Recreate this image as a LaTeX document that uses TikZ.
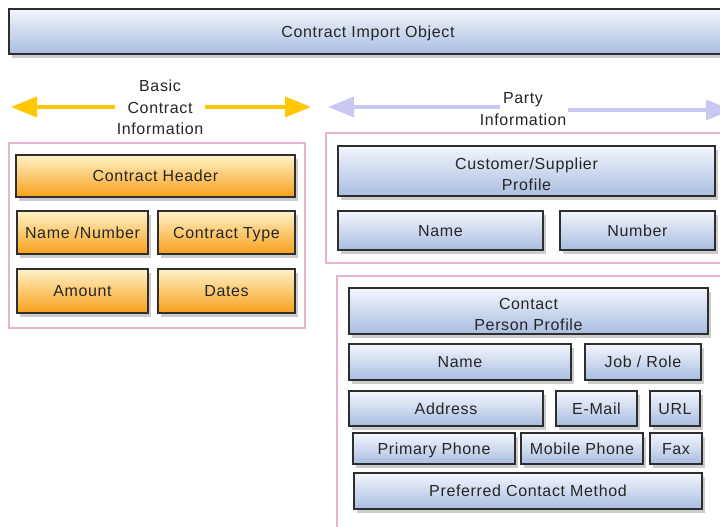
\documentclass[tikz,border=0pt]{standalone}
\usepackage{fontspec}
\setmainfont[LetterSpace=4]{Liberation Sans}
\usetikzlibrary{shadows,arrows.meta}
\definecolor{bluetop}{HTML}{F3F6FC}
\definecolor{bluebot}{HTML}{A9BDE1}
\definecolor{ortop}{HTML}{FFF2C8}
\definecolor{orbot}{HTML}{F8A01A}
\definecolor{pinkline}{HTML}{E8B2D1}
\definecolor{yel}{HTML}{FFC800}
\definecolor{lav}{HTML}{C8C8F3}
\definecolor{txt}{HTML}{262626}
\definecolor{edge}{HTML}{2E2E2E}
\newcommand{\mystrut}{\rule[-3.5pt]{0pt}{18.5pt}}
\newcommand{\tallstrut}{\rule{0pt}{20.5pt}}
\tikzset{
  base/.style={rectangle, draw=edge, line width=1.8pt, text=txt, inner sep=0pt,
    font=\fontsize{16}{21}\selectfont, align=center,
    execute at begin node=\mystrut, execute at end node=\mystrut,
    drop shadow={shadow xshift=3pt, shadow yshift=-4pt, fill=black, opacity=0.2}},
  bluebox/.style={base, top color=bluetop, bottom color=bluebot},
  orbox/.style={base, top color=ortop, bottom color=orbot},
  group/.style={draw=pinkline, line width=1.5pt, fill=white},
  lbl/.style={text=txt, font=\fontsize{16}{21.5}\selectfont, align=center, inner sep=2pt},
  yarrow/.style={draw=yel, line width=4pt, -{Triangle[length=26pt,width=20pt]}},
  larrow/.style={draw=lav, line width=3.5pt, -{Triangle[length=26pt,width=20pt]}}
}
\begin{document}
\begin{tikzpicture}[x=1pt,y=-1pt]
\path[use as bounding box, clip] (0,0) rectangle (720,527);
\fill[white] (0,0) rectangle (720,527);

% title
\node[bluebox, minimum width=718pt, minimum height=45pt] (title) at (368,31.5) {Contract Import Object};

% arrows with labels
\node[lbl] (basic) at (160,107.5) {Basic\\Contract\\Information};
\coordinate (yl) at (11,107);
\coordinate (yr) at (311,107);
\draw[yarrow] (basic.west |- yl) -- (yl);
\draw[yarrow] (basic.east |- yr) -- (yr);

\node[lbl] (party) at (523,109) {Party\\Information};
\coordinate (pl0) at (500,107);
\coordinate (lt) at (328,107);
\coordinate (rt) at (732,110);
\draw[larrow] (pl0) -- (lt);
\draw[larrow] (party.east |- rt) -- (rt);

% left group
\draw[group] (9,143) rectangle (305,328);
\node[orbox, minimum width=279pt, minimum height=42pt] (hdr) at (155.5,176) {Contract Header};
\node[orbox, minimum width=131pt, minimum height=43pt] (nn) at (82.5,232.5) {Name /Number};
\node[orbox, minimum width=137pt, minimum height=43pt] (ct) at (226.5,232.5) {Contract Type};
\node[orbox, minimum width=131pt, minimum height=44pt] (amt) at (82.5,291) {Amount};
\node[orbox, minimum width=137pt, minimum height=44pt] (dates) at (226.5,291) {Dates};

% right top group
\draw[group] (326,133) rectangle (740,263);
\node[bluebox, minimum width=377pt, minimum height=50pt] (csp) at (526.5,171) {\tallstrut Customer/Supplier\\Profile};
\node[bluebox, minimum width=205pt, minimum height=39pt] (cname) at (440.5,230.5) {Name};
\node[bluebox, minimum width=155pt, minimum height=39pt] (cnum) at (637.5,230.5) {Number};

% right bottom group
\draw[group] (337,276) rectangle (740,545);
\node[bluebox, minimum width=359pt, minimum height=46pt] (cpp) at (528.5,311) {\tallstrut Contact\\Person Profile};
\node[bluebox, minimum width=222pt, minimum height=36pt] (pname) at (460,362) {Name};
\node[bluebox, minimum width=116pt, minimum height=36pt] (job) at (643,362) {Job / Role};
\node[bluebox, minimum width=194pt, minimum height=35pt] (addr) at (446,408.5) {Address};
\node[bluebox, minimum width=81pt, minimum height=35pt] (mail) at (596.5,408.5) {E-Mail};
\node[bluebox, minimum width=50pt, minimum height=35pt] (url) at (675,408.5) {URL};
\node[bluebox, minimum width=162pt, minimum height=31pt] (pph) at (434,448.5) {Primary Phone};
\node[bluebox, minimum width=122pt, minimum height=31pt] (mph) at (582,448.5) {Mobile Phone};
\node[bluebox, minimum width=52pt, minimum height=31pt] (fax) at (676,448.5) {Fax};
\node[bluebox, minimum width=348pt, minimum height=36pt] (pcm) at (528,491) {Preferred Contact Method};
\end{tikzpicture}
\end{document}
